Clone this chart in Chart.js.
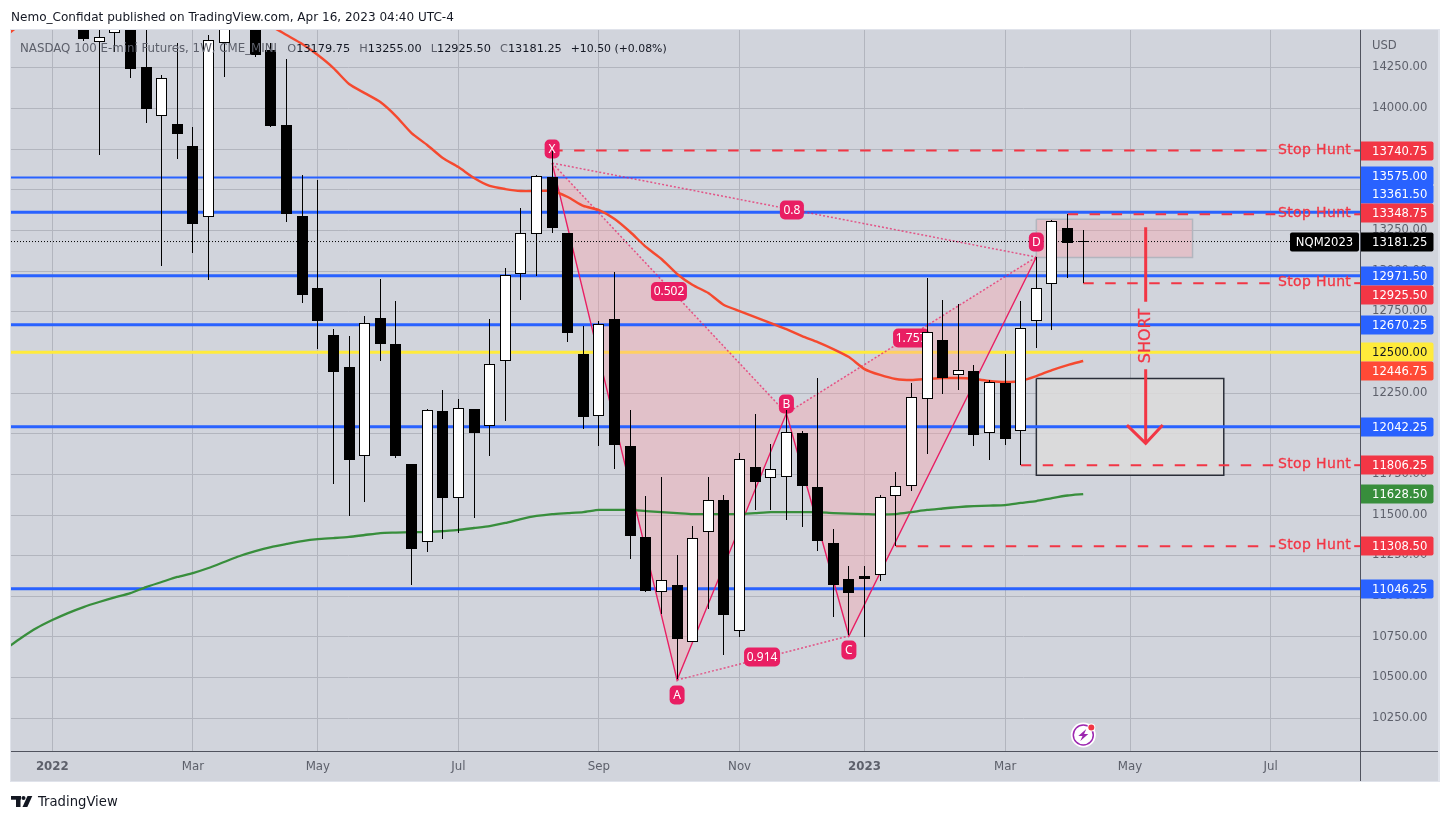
<!DOCTYPE html>
<html><head><meta charset="utf-8">
<style>html,body{margin:0;padding:0;background:#fff}canvas{display:block}</style>
<script src="https://cdn.jsdelivr.net/npm/chart.js@4/dist/chart.umd.js"></script>
</head><body><canvas id="c" width="1449" height="821" style="width:1449px;height:821px"></canvas>
<script>
// Weekly candles, week 0 = first week of Jan 2022
const opens=[15600,15200,14700,14410,14461,14640,14254,13955,13904,13768,13334,14404,14850,14620,14359,13898,13338,12895,12606,12410,11864,12711,12551,11813,11332,12139,11606,12152,12045,12445,12983,13229,13578,13234,12490,12110,12705,11924,11365,11028,11069,10717,11393,11592,10785,11795,11725,11732,12004,11672,11326,11106,11125,11129,11615,11676,12211,12576,12359,12385,12002,12311,12014,12691,12918,13264,13179.75];
const highs=[15800,15300,14800,14650,14700,14750,14560,14205,14402,13885,14451,14750,14950,14700,14402,14303,13590,13559,12643,12600,12723,12951,12815,11813,12151,12268,12213,12152,12705,13017,13385,13590,13740.75,13234,12662,12693,12992,12145,11617,11733,11254,11432,11733,11623,11881,12121,11936,12145,12016,12342,11414,11186,11186,11623,11764,12311,12955,12822,12797,12422,12330,12490,12815,13086,13314,13348.75,13255];
const lows=[15100,14700,14414,13713,14348,14188,13912,13032,13690,13112,12945,14194,14600,14317,13887,13303,12805,12520,11692,11495,11582,12448,11852,11071,11274,11354,11391,11483,11863,12078,12822,12971,13235,12565,12027,11926,11784,11231,11028,10893,10490,10717,10922,10641,10752,11532,11532,11471,11428,11280,10875,10760,10752,11096,11308.5,11647,11877,12246,12268,11926,11840,11932,11806.25,12528,12639,12959,12925.5];
const closes=[15200,14800,14426,14437,14640,14244,13998,14185,13842,13291,14418,14690,14650,14328,13893,13352,12854,12693,12379,11838,12678,12551,11863,11293,12144,11604,12156,12004,12426,12974,13232,13582,13264,12621,12104,12672,11932,11373,11034,11098,10739,11357,11590,10887,11846,11705,11781,12008,11680,11342,11071,11022,11106,11609,11676,12223,12623,12344,12389,11994,12316,11969,12648,12894,13306,13174,13181.25];
// Moving averages, first value is week -3
const maStart=-3;
const redMA=[14445,14519,14580,14640,14700,14760,14810,14850,14870,14880,14870,14840,14790,14730,14670,14610,14555,14506,14451,14396,14328,14248,14150,14094,14039,13953,13848,13775,13695,13639,13572,13523,13504,13492,13492,13492,13455,13400,13375,13320,13240,13148,13074,12982,12914,12865,12791,12754,12717,12680,12643,12600,12563,12520,12471,12397,12361,12336,12330,12336,12342,12342,12336,12324,12318,12324,12354,12391,12422,12446.75];
const greenMA=[10676,10744,10805,10854,10897,10934,10965,10993,11020,11057,11088,11119,11143,11174,11211,11248,11278,11303,11322,11340,11352,11358,11365,11377,11389,11392,11395,11395,11401,11408,11420,11432,11451,11475,11494,11506,11512,11518,11531,11531,11531,11524,11518,11512,11506,11506,11506,11506,11512,11518,11518,11518,11518,11512,11509,11506,11503,11506,11518,11531,11540,11549,11555,11558,11561,11574,11586,11604,11620,11628.5];
// Axes
const xMin=-2.644,xMax=83.785,yMin=10049,yMax=14482;
const monthWeeks=[0,9,17,26,35,44,52,61,69,78];
const monthLabels=['2022','Mar','May','Jul','Sep','Nov','2023','Mar','May','Jul'];
const priceTicks=[10250,10500,10750,11000,11250,11500,11750,12000,12250,12500,12750,13000,13250,13500,13750,14000,14250];
// Horizontal levels
const blueLevels=[13575,13361.5,12971.5,12670.25,12042.25,11046.25];
const blueWidths=[2,3,3,3,3,3];
const yellowLevel=12500;
const lastPrice=13181.25;
const stopLevels=[13740.75,13348.75,12925.5,11806.25,11308.5];
const stopStarts=[32,65,66,62,54];
// XABCD pattern
const patX=[32,40,47,51,63];
const patY=[13664,10485,12125,10756,13086];
const patLabelText=['X','A','B','C','D','0.8','0.502','0.914','1.757'];
const patLabelX=[32,40,47,51,63,47.35,39.48,45.44,54.98];
const patLabelY=[13750,10393,12182,10670,13178,13375,12874,10627,12588];
// Boxes and arrow
const pinkBoxX=[63,73],pinkBoxY=[13318,13084];
const grayBoxX=[63,75],grayBoxY=[12340,11744];
const arrowX=[70,70],arrowTopY=[13269,12811],arrowLowY=[12396,11941];
const headX=[68.8,70,71.09],headY=[12053,11941,12053];
// Price tags
const tagValues=[13740.75,13575,13361.5,13348.75,13181.25,12971.5,12925.5,12670.25,12500,12446.75,12042.25,11806.25,11628.5,11308.5,11046.25];
const tagColors=['#f23645','#2962ff','#2962ff','#f23645','#000000','#2962ff','#f23645','#2962ff','#ffeb3b','#ff4a36','#2962ff','#f23645','#388e3c','#f23645','#2962ff'];
const tagNudge=[0,-2,-18,-1,0,0,12,0,0,10,0,0,0,0,0];

const FONT='"DejaVu Sans"';
const STOP='#f23645',PINK='#e91e63',PINKFILL='rgba(255,158,166,0.35)';
const pts=(xs,ys)=>xs.map((x,i)=>({x,y:ys[i]}));
const hline=(x0,x1,v,o,ord)=>Object.assign({type:'line',data:[{x:x0,y:v},{x:x1,y:v}],pointRadius:0,fill:false,order:ord,clip:0},o);
const poly=(xs,ys,o,ord)=>Object.assign({type:'line',data:pts(xs,ys),pointRadius:0,fill:false,order:ord,clip:0,borderWidth:1,borderColor:PINK},o);
const weeks=opens.map((_,i)=>i);
const ds=[];
// boxes
ds.push(poly([grayBoxX[0],grayBoxX[1],grayBoxX[1],grayBoxX[0],grayBoxX[0]],[grayBoxY[0],grayBoxY[0],grayBoxY[1],grayBoxY[1],grayBoxY[0]],{fill:'shape',backgroundColor:'rgba(220,218,218,0.85)',borderColor:'#2a2e39',borderWidth:1.5},60));
ds.push(poly([pinkBoxX[0],pinkBoxX[1],pinkBoxX[1],pinkBoxX[0],pinkBoxX[0]],[pinkBoxY[0],pinkBoxY[0],pinkBoxY[1],pinkBoxY[1],pinkBoxY[0]],{fill:'shape',backgroundColor:PINKFILL,borderColor:'#b2b5be',borderWidth:1.5},60));
// levels: yellow lies under the pattern, blue above it
ds.push(hline(xMin,xMax,yellowLevel,{borderColor:'#ffeb3b',borderWidth:3},50));
// pattern
ds.push(poly([patX[0],patX[1],patX[2],patX[0]],[patY[0],patY[1],patY[2],patY[0]],{fill:'shape',backgroundColor:PINKFILL,borderColor:'rgba(0,0,0,0)',borderWidth:0},45));
ds.push(poly([patX[2],patX[3],patX[4],patX[2]],[patY[2],patY[3],patY[4],patY[2]],{fill:'shape',backgroundColor:PINKFILL,borderColor:'rgba(0,0,0,0)',borderWidth:0},45));
blueLevels.forEach((v,i)=>ds.push(hline(xMin,xMax,v,{borderColor:'#2962ff',borderWidth:blueWidths[i]},44.5)));
ds.push(poly(patX,patY,{borderColor:PINK,borderWidth:1.4},44));
[[0,2],[2,4],[1,3],[0,4]].forEach(p=>ds.push(poly([patX[p[0]],patX[p[1]]],[patY[p[0]],patY[p[1]]],{borderColor:'rgba(233,30,99,0.7)',borderWidth:1.5,borderDash:[2,2]},44)));
// dotted last price
ds.push(hline(xMin,xMax,lastPrice,{borderColor:'#000',borderWidth:1,borderDash:[1,2]},40));
// stop hunts
stopLevels.forEach((v,i)=>{
  ds.push(hline(stopStarts[i],78.3,v,{borderColor:STOP,borderWidth:2,borderDash:[10.5,11.5]},38));
  ds.push(hline(83.35,xMax,v,{borderColor:STOP,borderWidth:2},38));
});
// MAs
const maX=redMA.map((_,i)=>i+maStart);
ds.push({type:'line',data:pts(maX,greenMA),borderColor:'#388e3c',borderWidth:2.3,pointRadius:0,tension:.2,fill:false,order:30,clip:0});
ds.push({type:'line',data:pts(maX,redMA),borderColor:'#f5492f',borderWidth:2.4,pointRadius:0,tension:.2,fill:false,order:30,clip:0});
// arrow
ds.push(poly(arrowX,arrowTopY,{borderColor:STOP,borderWidth:3},28));
ds.push(poly(arrowX,arrowLowY,{borderColor:STOP,borderWidth:3},28));
ds.push(poly(headX,headY,{borderColor:STOP,borderWidth:3},28));
// candles
const wickSet={type:'bar',label:'wick',data:weeks.map(i=>({x:i,y:[lows[i],highs[i]]})),backgroundColor:'#000',borderWidth:0,barThickness:1,grouped:false,inflateAmount:0,order:20,clip:0};
const bodySet={type:'bar',label:'body',data:weeks.map(i=>({x:i,y:[Math.min(opens[i],closes[i]),Math.max(opens[i],closes[i])]})),
  backgroundColor:weeks.map(i=>closes[i]>=opens[i]?'#fff':'#000'),borderColor:'#000',borderWidth:1,borderSkipped:false,barThickness:11,grouped:false,inflateAmount:0,minBarLength:1,order:10,clip:0};
ds.push(wickSet,bodySet);
// pattern labels are painted once the last red-line layer below the candles is down
const patternEndIndex=ds.findIndex(d=>d.order===38);

function rr(c,x,y,w,h,r){c.beginPath();c.roundRect(x,y,w,h,r);c.fill();}
const plugin={id:'tv',
 afterDatasetsUpdate(ch){
  ch.data.datasets.forEach((d,i)=>{ if(d.type!=='bar')return;
   ch.getDatasetMeta(i).data.forEach(el=>{el.x=Math.round(el.x-.5)+.5; el.y=Math.round(el.y); el.base=Math.round(el.base);
     el.height=el.base-el.y;});
  });
 },
 beforeDraw(ch){const c=ch.ctx;c.save();c.fillStyle='#fff';c.fillRect(0,0,1449,821);
  c.fillStyle='#e0e3eb';c.fillRect(10,29,1430,753);
  c.fillStyle='#d1d4dc';c.fillRect(11,30,1427,751);c.restore();},
 afterDatasetDraw(ch,args){
  if(args.index!==patternEndIndex)return;
  const c=ch.ctx,X=ch.scales.x,Y=ch.scales.y;c.save();
  c.textAlign='center';c.textBaseline='middle';c.font='12px "Noto Sans"';
  patLabelText.forEach((t,i)=>{const px=X.getPixelForValue(patLabelX[i]),py=Y.getPixelForValue(patLabelY[i]);
   const w=t.length===1?15:(t.length===3?24:36);
   c.fillStyle=PINK;rr(c,px-w/2,py-9.5,w,19,5);c.fillStyle='#fff';c.fillText(t,px,py+.5);});
  c.restore();
 },
 afterDraw(ch){
  const c=ch.ctx,Y=ch.scales.y;c.save();
  // axis borders
  c.fillStyle='#50535e';c.fillRect(1360,30,1,751);c.fillRect(11,751,1427,1);
  // stop hunt text
  c.fillStyle=STOP;c.strokeStyle=STOP;c.lineWidth=.3;c.font='14px '+FONT;c.textAlign='left';c.textBaseline='middle';c.letterSpacing='0.35px';
  stopLevels.forEach(v=>{const y=Y.getPixelForValue(v)-.5;c.fillText('Stop Hunt',1278,y);c.strokeText('Stop Hunt',1278,y);});
  c.letterSpacing='0px';
  // SHORT
  c.save();c.translate(1145.5,336);c.rotate(-Math.PI/2);c.textAlign='center';c.font='16px '+FONT;c.fillText('SHORT',0,0);c.strokeText('SHORT',0,0);c.restore();
  // price tags
  c.font='11.6px '+FONT;
  tagValues.forEach((v,i)=>{const y=Math.round(Y.getPixelForValue(v))+tagNudge[i];
   c.fillStyle=tagColors[i];c.beginPath();c.roundRect(1361,y-9.5,72.5,19,[0,2,2,0]);c.fill();
   c.fillStyle=tagColors[i]==='#ffeb3b'?'#131722':'#fff';c.textAlign='left';c.fillText(v.toFixed(2),1372,y+.5);});
  // NQM tag
  const ly=Math.round(Y.getPixelForValue(lastPrice));
  c.fillStyle='#000';c.beginPath();c.roundRect(1290,ly-9.5,69,19,2);c.fill();
  c.fillStyle='#fff';c.textAlign='center';c.fillText('NQM2023',1324.5,ly+.5);
  // USD
  c.textAlign='left';c.fillStyle='#5d606b';c.fillText('USD',1372,45.5);
  // header
  c.textBaseline='alphabetic';
  c.font='12.05px '+FONT;c.fillStyle='#131722';c.fillText('Nemo_Confidat published on TradingView.com, Apr 16, 2023 04:40 UTC-4',11,21);
  c.font='11.8px '+FONT;c.fillStyle='#5d606b';c.fillText('NASDAQ 100 E-mini Futures, 1W, CME_MINI',20,52);
  c.font='11.3px '+FONT;
  const hdr=[['O','13179.75',287.3],['H','13255.00',359.3],['L','12925.50',430.7],['C','13181.25',500]];
  hdr.forEach(h=>{c.fillStyle='#5d606b';c.fillText(h[0],h[2],52);const w=c.measureText(h[0]).width;c.fillStyle='#131722';c.fillText(h[1],h[2]+w,52);});
  c.fillStyle='#131722';c.font='10.9px '+FONT;c.fillText('+10.50 (+0.08%)',570.7,52);
  // TV logo
  c.fillStyle='#131722';c.fillRect(11,796,10,3.7);c.fillRect(16,796,4.5,11);
  c.beginPath();c.arc(23.5,798,2,0,7);c.fill();
  c.beginPath();c.moveTo(27.5,796);c.lineTo(32.3,796);c.lineTo(27.3,807);c.lineTo(22.5,807);c.closePath();c.fill();
  c.font='13.2px '+FONT;c.fillText('TradingView',38,806);
  // bolt icon
  const ix=1083.3,iy=735;
  c.fillStyle='#fff';c.beginPath();c.arc(ix,iy,12.5,0,7);c.fill();
  c.strokeStyle='#9c27b0';c.lineWidth=1.5;c.beginPath();c.arc(ix,iy,10,0,7);c.stroke();
  c.fillStyle='#9c27b0';c.beginPath();c.moveTo(ix+3,iy-6);c.lineTo(ix-5,iy+1);c.lineTo(ix-.8,iy+1);c.lineTo(ix-3,iy+6);c.lineTo(ix+5,iy-1);c.lineTo(ix+.8,iy-1);c.closePath();c.fill();
  c.fillStyle='#fff';c.beginPath();c.arc(ix+8,iy-7.5,4,0,7);c.fill();
  c.fillStyle=STOP;c.beginPath();c.arc(ix+8,iy-7.5,3,0,7);c.fill();
  c.restore();
 }
};
new Chart(document.getElementById('c'),{
 type:'bar',
 data:{datasets:ds},
 options:{responsive:false,animation:false,devicePixelRatio:1,
  layout:{padding:{left:11,top:30,right:11,bottom:40}},
  plugins:{legend:{display:false},tooltip:{enabled:false},title:{display:false}},
  scales:{
   x:{type:'linear',position:'bottom',min:xMin,max:xMax,offset:false,
    afterBuildTicks:s=>{s.ticks=monthWeeks.map(v=>({value:v}));},
    afterFit:s=>{s.height=30;},
    grid:{color:'#b2b5be',lineWidth:1,offset:false,drawTicks:false},border:{display:false},
    ticks:{autoSkip:false,maxRotation:0,padding:9,color:'#5d606b',
     font:ctx=>({family:FONT,size:11.8,weight:(ctx.tick&&(ctx.tick.value===0||ctx.tick.value===52))?'bold':'normal'}),
     callback:v=>monthLabels[monthWeeks.indexOf(v)]||''}},
   y:{type:'linear',position:'right',min:yMin,max:yMax,
    afterBuildTicks:s=>{s.ticks=priceTicks.map(v=>({value:v}));},
    afterFit:s=>{s.width=77;},
    grid:{color:'#b2b5be',lineWidth:1,drawTicks:false},border:{display:false},
    ticks:{autoSkip:false,padding:11,labelOffset:-.5,color:'#5d606b',font:{family:FONT,size:11.6},callback:v=>v.toFixed(2)}}
  }
 },
 plugins:[plugin]
});
</script></body></html>
